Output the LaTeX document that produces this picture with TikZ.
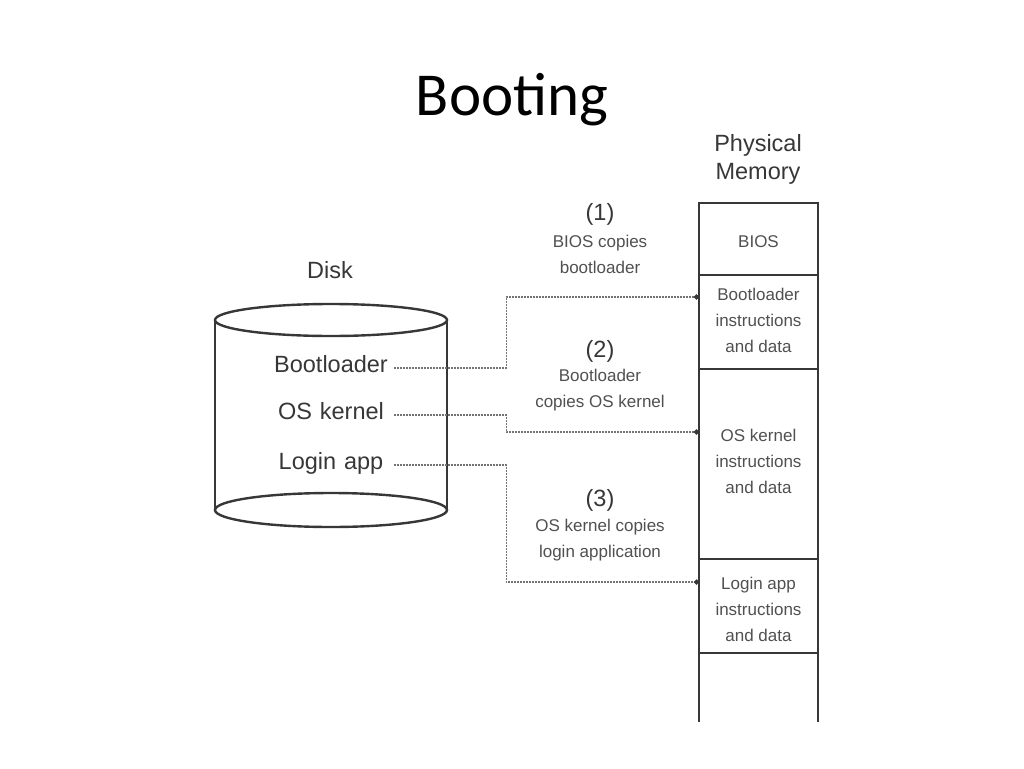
\documentclass[tikz,border=0pt]{standalone}
\usepackage{fontspec}
\setmainfont{Carlito}
\newfontfamily\diagfont{Liberation Sans}
\usetikzlibrary{arrows.meta}

\definecolor{inkColor}{RGB}{55,55,55}
\definecolor{softColor}{RGB}{80,80,80}
\definecolor{linkColor}{RGB}{115,115,115}

\tikzset{
  bigtext/.style={font=\diagfont\fontsize{23.5}{28}\selectfont, text=inkColor, align=center, inner sep=0pt},
  smalltext/.style={font=\diagfont\fontsize{17}{26}\selectfont, text=softColor, align=center, inner sep=0pt},
  disklabel/.style={bigtext, text width=120pt, text height=12.5pt, text depth=4pt, inner sep=3pt},
  link/.style={draw=linkColor, line width=1.3pt, dash pattern=on 1.6pt off 1.4pt, -{Circle[length=5pt, color=inkColor]}},
  disk/.style={draw=inkColor, line width=2.4pt},
  wall/.style={draw=inkColor, line width=2.6pt},
  divider/.style={draw=inkColor, line width=2pt}
}

\begin{document}
\begin{tikzpicture}[x=1pt, y=-1pt]
  \useasboundingbox (0,0) rectangle (1024,768);
  \node[font=\fontsize{61}{70}\selectfont, inner sep=0pt] (title) at (512,100) {Booting};

  % Disk
  \node[bigtext] (diskName) at (330,270) {Disk};
  \draw[disk] (331,320) ellipse (116 and 16);
  \draw[disk] (215,320) -- (215,510);
  \draw[disk] (447,320) -- (447,510);
  \draw[disk] (331,510) ellipse (116 and 17);
  \node[disklabel] (dBoot) at (331,368) {Bootloader};
  \node[disklabel] (dKern) at (331,415) {OS kernel};
  \node[disklabel] (dLogin) at (331,465) {Login app};

  % Memory
  \node[bigtext] (memName) at (758,159) {Physical\\Memory};
  \draw[wall] (699,722) |- (818,203) -- (818,722);
  \foreach \y in {275,369,559,653}
    \draw[divider] (699,\y) -- (818,\y);
  \node[smalltext] (mBios) at (758.5,242) {BIOS};
  \node[smalltext] (mBoot) at (758.5,320) {Bootloader\\instructions\\and data};
  \node[smalltext] (mKern) at (758.5,461) {OS kernel\\instructions\\and data};
  \node[smalltext] (mLogin) at (758.5,609) {Login app\\instructions\\and data};
  \coordinate (inBoot) at (699,297);
  \coordinate (inKern) at (699,432);
  \coordinate (inLogin) at (699,582);

  % Copy steps
  \node[bigtext] (num1) at (600,214) {(1)};
  \node[smalltext] (step1) at (600,254) {BIOS copies\\bootloader};
  \node[bigtext] (num2) at (600,351) {(2)};
  \node[smalltext] (step2) at (600,390) {Bootloader\\copies OS kernel};
  \node[bigtext] (num3) at (600,500) {(3)};
  \node[smalltext] (step3) at (600,540) {OS kernel copies\\login application};

  \draw[link] (dBoot.east) -- +(112,0) |- (inBoot);
  \draw[link] (dKern.east) -- +(112,0) |- (inKern);
  \draw[link] (dLogin.east) -- +(112,0) |- (inLogin);
\end{tikzpicture}
\end{document}
